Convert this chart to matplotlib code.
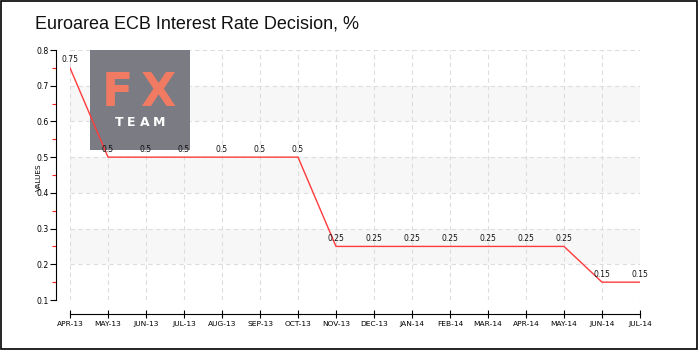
import matplotlib
matplotlib.use("Agg")
import matplotlib.pyplot as plt
from matplotlib.patches import Rectangle
from matplotlib.ticker import MultipleLocator

months = ["APR-13", "MAY-13", "JUN-13", "JUL-13", "AUG-13", "SEP-13", "OCT-13", "NOV-13",
          "DEC-13", "JAN-14", "FEB-14", "MAR-14", "APR-14", "MAY-14", "JUN-14", "JUL-14"]
rates = [0.75, 0.5, 0.5, 0.5, 0.5, 0.5, 0.5, 0.25, 0.25, 0.25, 0.25, 0.25, 0.25, 0.25, 0.15, 0.15]
title = "Euroarea ECB Interest Rate Decision, %"

W, H = 700, 350
fig = plt.figure(figsize=(7, 3.5), dpi=100)
fig.patch.set_facecolor("white")

# axes: data area x 70..640, y 50..300 px
ax = fig.add_axes([70 / W, 1 - 300 / H, 570 / W, 250 / H])
x = list(range(len(months)))
ax.set_xlim(0, len(months) - 1)
ax.set_ylim(0.1, 0.8)

# bands
for lo in [0.2, 0.4, 0.6]:
    ax.axhspan(lo, lo + 0.1, color="#f7f7f7", zorder=0, lw=0)

ax.grid(True, color="#dddddd", linestyle=(0, (4, 3)), linewidth=0.8)
ax.set_axisbelow(True)

ax.plot(x, rates, color="#ff3b3b", linewidth=1.0, zorder=3)
for xi, v in zip(x, rates):
    ax.annotate(f"{v:g}", (xi, v), xytext=(0, 2.5), textcoords="offset points",
                ha="center", va="bottom", fontsize=5.5, color="#111111", zorder=4)

for s in ["top", "right"]:
    ax.spines[s].set_visible(False)
ax.spines["left"].set_position(("outward", 10))
ax.spines["bottom"].set_position(("outward", 10))
ax.spines["left"].set_bounds(0.1, 0.8)

ax.set_xticks(x)
ax.set_xticklabels(months, fontsize=5.4)
ax.yaxis.set_minor_locator(MultipleLocator(0.05))
ax.set_yticks([0.1, 0.2, 0.3, 0.4, 0.5, 0.6, 0.7, 0.8])
ax.set_yticklabels(["0.1", "0.2", "0.3", "0.4", "0.5", "0.6", "0.7", "0.8"], fontsize=5.6)
ax.tick_params(axis="x", direction="inout", length=6, width=0.8, pad=2)
ax.tick_params(axis="y", which="major", direction="out", length=4, width=0.8, pad=1)
ax.tick_params(axis="y", which="minor", direction="out", length=3, width=0.8, color="#ff2020")
ax.set_ylabel("VALUES", fontsize=5.2)
ax.yaxis.set_label_coords(-0.05, 0.49)

# title
fig.text(35 / W, 1 - 24 / H, title, fontsize=13, ha="left", va="center",
         family=["Liberation Sans", "DejaVu Sans"], color="#111111")

# logo watermark (under the line, over the grid)
ax.add_patch(Rectangle((90 / W, 1 - 150 / H), 100 / W, 100 / H, transform=fig.transFigure,
                       facecolor="#7b7b83", edgecolor="none", zorder=2, clip_on=False))
for ch, cx in [("F", 117), ("X", 158)]:
    ax.text(cx / W, 1 - 94 / H, ch, fontsize=33, color="#f07a62", ha="center", va="center",
            zorder=2.5, family="DejaVu Sans", weight="bold", transform=fig.transFigure)
for ch, cx in [("T", 119), ("E", 131), ("A", 145), ("M", 159)]:
    ax.text(cx / W, 1 - 122 / H, ch, fontsize=9, color="white", ha="center", va="center",
            weight="bold", zorder=2.5, family="DejaVu Sans", transform=fig.transFigure)

# border
fig.patches.append(Rectangle((0.5 / W, 1.5 / H), 696 / W, 347.5 / H, transform=fig.transFigure,
                             facecolor="none", edgecolor="black", linewidth=1.2, zorder=10))

fig.savefig("out.png", dpi=100)
